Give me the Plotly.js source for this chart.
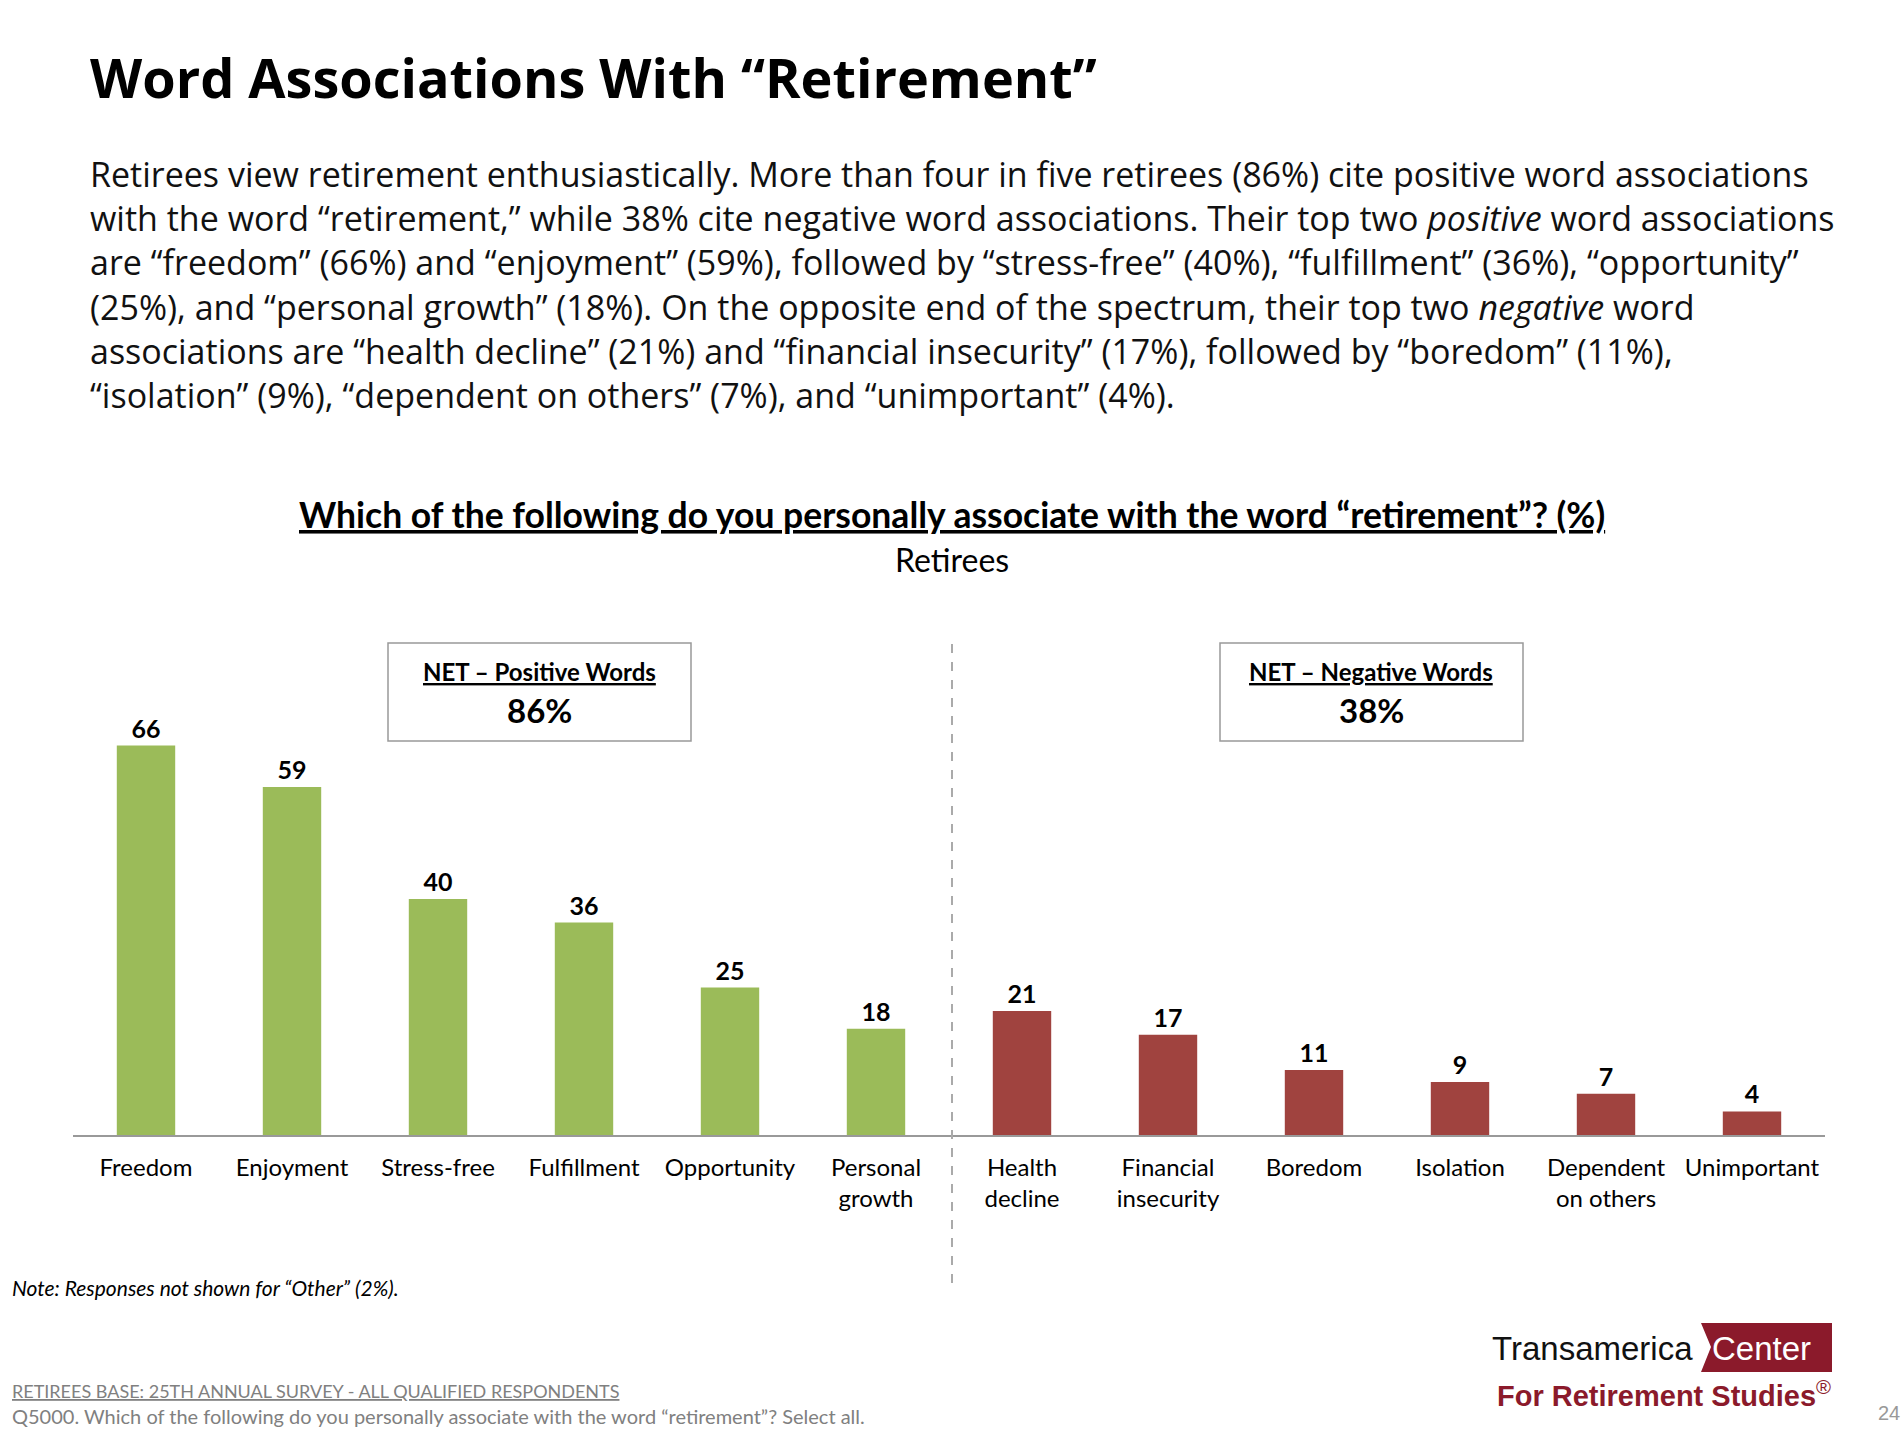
<!DOCTYPE html>
<html>
<head>
<meta charset="utf-8">
<script src="https://cdn.plot.ly/plotly-3.0.1.min.js"></script>
<style>body{margin:0;background:#fff}</style>
</head>
<body>
<div id="chart"></div>
<script>
var positiveWords = ["Freedom", "Enjoyment", "Stress-free", "Fulfillment", "Opportunity", "Personal<br>growth"];
var positiveValues = [66, 59, 40, 36, 25, 18];
var negativeWords = ["Health<br>decline", "Financial<br>insecurity", "Boredom", "Isolation", "Dependent<br>on others", "Unimportant"];
var negativeValues = [21, 17, 11, 9, 7, 4];
var netPositive = "86%";
var netNegative = "38%";

var green = "#9bbb59";
var red = "#a0433f";
var fnt = "Lato, 'Open Sans', sans-serif";

var cats = positiveWords.concat(negativeWords);
var vals = positiveValues.concat(negativeValues);
var colors = positiveWords.map(function () { return green; })
  .concat(negativeWords.map(function () { return red; }));

var body = "Retirees view retirement enthusiastically. More than four in five retirees (86%) cite positive word associations<br>" +
  "with the word “retirement,” while 38% cite negative word associations. Their top two <i>positive</i> word associations<br>" +
  "are “freedom” (66%) and “enjoyment” (59%), followed by “stress-free” (40%), “fulfillment” (36%), “opportunity”<br>" +
  "(25%), and “personal growth” (18%). On the opposite end of the spectrum, their top two <i>negative</i> word<br>" +
  "associations are “health decline” (21%) and “financial insecurity” (17%), followed by “boredom” (11%),<br>" +
  "“isolation” (9%), “dependent on others” (7%), and “unimportant” (4%).";

function paperText(x, y, text, size, opts) {
  var a = {
    xref: "paper", yref: "paper", x: x, y: y, text: text, showarrow: false,
    xanchor: "left", yanchor: "middle",
    font: { family: fnt, size: size, color: "#000" }
  };
  return Object.assign(a, opts || {});
}

// helpers to convert pixel positions to paper coords
var W = 1904, H = 1434, L = 73, R = 79, T = 663, B = 299;
function px(x) { return (x - L) / (W - L - R); }
function py(y) { return (H - B - (y - 5)) / (H - T - B); }

var annotations = [
  paperText(px(88), py(82), "<b>Word Associations With “Retirement”</b>", 54, { font: { family: "'Open Sans', sans-serif", size: 54, color: "#000" } }),
  paperText(px(88), py(290), body, 34, { align: "left", font: { family: "'Open Sans', sans-serif", size: 34, color: "#111" } }),
  paperText(px(952), py(519), "<b><u>Which of the following do you personally associate with the word “retirement”? (%)</u></b>", 35.5, { xanchor: "center" }),
  paperText(px(952), py(564), "Retirees", 32, { xanchor: "center" }),
  paperText(px(539), py(676), "<b><u>NET – Positive Words</u></b>", 24, { xanchor: "center" }),
  paperText(px(539), py(715), "<b>" + netPositive + "</b>", 33, { xanchor: "center" }),
  paperText(px(1371), py(676), "<b><u>NET – Negative Words</u></b>", 24, { xanchor: "center" }),
  paperText(px(1371), py(715), "<b>" + netNegative + "</b>", 33, { xanchor: "center" }),
  paperText(px(10), py(1292), "<i>Note: Responses not shown for “Other” (2%).</i>", 21),
  paperText(px(10), py(1396), "<u>RETIREES BASE: 25TH ANNUAL SURVEY - ALL QUALIFIED RESPONDENTS</u>", 18, { font: { family: fnt, size: 18, color: "#808080" } }),
  paperText(px(10), py(1421), "Q5000. Which of the following do you personally associate with the word “retirement”? Select all.", 20, { font: { family: fnt, size: 20, color: "#808080" } }),
  paperText(px(1490), py(1353), "Transamerica", 33, { font: { family: "'Liberation Sans', sans-serif", size: 33, color: "#111" } }),
  paperText(px(1710), py(1353), "Center", 33, { font: { family: "'Liberation Sans', sans-serif", size: 33, color: "#fff" } }),
  paperText(px(1495), py(1399), "<b>For Retirement Studies</b><sup>®</sup>", 29, { font: { family: "'Liberation Sans', sans-serif", size: 29, color: "#8b1a2b" } }),
  paperText(px(1902), py(1418), "24", 20, { xanchor: "right", font: { family: "'Liberation Sans', sans-serif", size: 20, color: "#999" } })
];

var shapes = [
  { type: "rect", xref: "paper", yref: "paper", x0: px(388), x1: px(691), y0: py(648), y1: py(746), line: { color: "#999", width: 1.5 }, fillcolor: "rgba(0,0,0,0)" },
  { type: "rect", xref: "paper", yref: "paper", x0: px(1220), x1: px(1523), y0: py(648), y1: py(746), line: { color: "#999", width: 1.5 }, fillcolor: "rgba(0,0,0,0)" },
  { type: "line", xref: "paper", yref: "paper", x0: px(952), x1: px(952), y0: py(649), y1: py(1288), line: { color: "#aaa", width: 2, dash: "dash" } },
  { type: "path", xref: "paper", yref: "paper",
    path: "M " + px(1701) + "," + py(1328) + " L " + px(1832) + "," + py(1328) + " L " + px(1832) + "," + py(1377) +
      " L " + px(1701) + "," + py(1377) + " L " + px(1711) + "," + py(1352) + " Z",
    fillcolor: "#8b1a2b", line: { width: 0 } }
];

Plotly.newPlot("chart", [{
  type: "bar",
  x: cats,
  y: vals,
  marker: { color: colors },
  width: 0.4,
  text: vals,
  texttemplate: "<b>%{y}</b>",
  textposition: "outside",
  cliponaxis: false,
  textfont: { family: fnt, size: 25, color: "#000" },
  hoverinfo: "x+y"
}], {
  width: W, height: H,
  margin: { l: L, r: R, t: T, b: B },
  paper_bgcolor: "#fff", plot_bgcolor: "#fff",
  showlegend: false,
  bargap: 0.6,
  xaxis: {
    showline: true, linecolor: "#999", linewidth: 1.5,
    ticks: "outside", ticklen: 10, tickcolor: "rgba(0,0,0,0)",
    tickfont: { family: fnt, size: 24, color: "#000" },
    fixedrange: true
  },
  yaxis: { range: [0, 80], visible: false, fixedrange: true },
  annotations: annotations,
  shapes: shapes
}, { displayModeBar: false });
</script>
</body>
</html>
